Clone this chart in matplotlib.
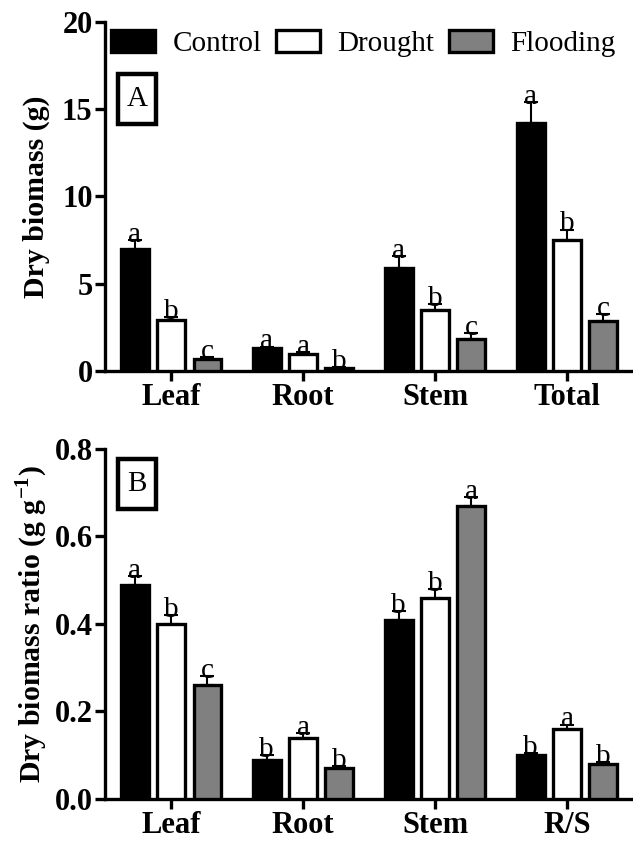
import matplotlib
matplotlib.use("Agg")
import matplotlib.pyplot as plt
import numpy as np
from matplotlib.patches import Patch, Rectangle

plt.rcParams['font.family'] = ['Liberation Serif', 'DejaVu Serif']
plt.rcParams['mathtext.fontset'] = 'custom'
plt.rcParams['mathtext.rm'] = 'Liberation Serif:bold'
plt.rcParams['mathtext.bf'] = 'Liberation Serif:bold'

treatments = ["Control", "Drought", "Flooding"]
colors = ["black", "white", "#808080"]

cats_a = ["Leaf", "Root", "Stem", "Total"]
vals_a = {
    "Control": [7.0, 1.3, 5.9, 14.2],
    "Drought": [2.9, 1.0, 3.5, 7.5],
    "Flooding": [0.7, 0.15, 1.85, 2.85],
}
errs_a = {
    "Control": [0.5, 0.1, 0.7, 1.2],
    "Drought": [0.2, 0.1, 0.35, 0.6],
    "Flooding": [0.1, 0.05, 0.3, 0.4],
}
sig_a = {
    "Control": ["a", "a", "a", "a"],
    "Drought": ["b", "a", "b", "b"],
    "Flooding": ["c", "b", "c", "c"],
}

cats_b = ["Leaf", "Root", "Stem", "R/S"]
vals_b = {
    "Control": [0.49, 0.09, 0.41, 0.10],
    "Drought": [0.40, 0.14, 0.46, 0.16],
    "Flooding": [0.26, 0.07, 0.67, 0.08],
}
errs_b = {
    "Control": [0.02, 0.01, 0.02, 0.005],
    "Drought": [0.02, 0.01, 0.02, 0.01],
    "Flooding": [0.02, 0.005, 0.02, 0.005],
}
sig_b = {
    "Control": ["a", "b", "b", "b"],
    "Drought": ["b", "a", "b", "a"],
    "Flooding": ["c", "b", "a", "b"],
}

fig = plt.figure(figsize=(6.33, 8.46), dpi=100)
axA = fig.add_axes([0.166, 0.5615, 0.834, 0.4125])
axB = fig.add_axes([0.166, 0.0556, 0.834, 0.4137])

def draw(ax, cats, vals, errs, sig, ylim, yticks, ytl, ylabel, panel, panel_y, off):
    x = np.arange(len(cats))
    w = 0.21
    step = 0.275
    for i, t in enumerate(treatments):
        xs = x + (i - 1) * step
        ax.bar(xs, vals[t], width=w, color=colors[i], edgecolor='black', linewidth=2.4, zorder=3)
        ax.errorbar(xs, vals[t], yerr=[np.zeros(len(cats)), errs[t]], fmt='none',
                    ecolor='black', elinewidth=1.5, capsize=5, capthick=1.5, zorder=2)
        for xi, v, e, s in zip(xs, vals[t], errs[t], sig[t]):
            ax.text(xi, v + e - off, s, ha='center', va='bottom', fontsize=21, zorder=4)
    ax.set_xlim(-0.5, 3.5)
    ax.set_ylim(*ylim)
    ax.set_yticks(yticks)
    ax.set_yticklabels(ytl, fontsize=22, fontweight='bold')
    ax.set_xticks(x)
    ax.set_xticklabels(cats, fontsize=22, fontweight='bold')
    ax.set_ylabel(ylabel, fontsize=21.5, fontweight='bold')
    ax.yaxis.set_label_coords(-0.105, 0.5)
    for s in ['top', 'right']:
        ax.spines[s].set_visible(False)
    for s in ['left', 'bottom']:
        ax.spines[s].set_linewidth(2.4)
    ax.tick_params(axis='both', direction='out', length=7, width=2.4, pad=2)
    bw, bh = 38 / 528.0, 50 / 349.0
    cx = 0.061
    ax.add_patch(Rectangle((cx - bw / 2, panel_y - bh / 2), bw, bh, transform=ax.transAxes,
                           facecolor='white', edgecolor='black', linewidth=3.2,
                           clip_on=False, zorder=5))
    ax.text(cx, panel_y, panel, transform=ax.transAxes, ha='center', va='center',
            fontsize=21, zorder=6)

draw(axA, cats_a, vals_a, errs_a, sig_a, (0, 20), [0, 5, 10, 15, 20],
     ["0", "5", "10", "15", "20"], "Dry biomass (g)", "A", 0.779, 0.45)
draw(axB, cats_b, vals_b, errs_b, sig_b, (0, 0.8), [0.0, 0.2, 0.4, 0.6, 0.8],
     ["0.0", "0.2", "0.4", "0.6", "0.8"], r"Dry biomass ratio (g g$^{\mathbf{-1}}$)", "B", 0.90, 0.018)

handles = [Patch(facecolor=c, edgecolor='black', linewidth=2.4) for c in colors]
fig.legend(handles, treatments, loc='center', bbox_to_anchor=(0.574, 0.949), ncol=3,
           frameon=False, fontsize=21, handlelength=1.5, handleheight=0.8,
           handletextpad=0.6, columnspacing=0.5, borderpad=0, borderaxespad=0)

fig.savefig("out.png", dpi=100)
